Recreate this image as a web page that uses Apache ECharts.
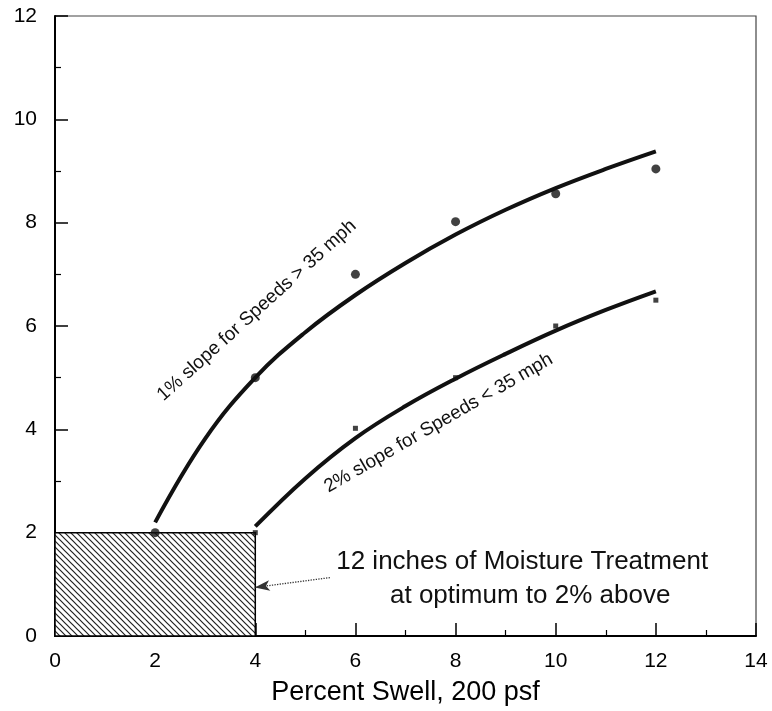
<!DOCTYPE html>
<html><head><meta charset="utf-8">
<script src="https://cdn.jsdelivr.net/npm/echarts@6/dist/echarts.min.js"></script>
<style>html,body{margin:0;padding:0;background:#fff}#c{width:772px;height:711px}</style>
</head><body><div id="c"></div>
<script>
// ---- data ----
const upperPtsX = [2, 4, 6, 8, 10, 12];
const upperPtsY = [2, 5, 7, 8.02, 8.56, 9.04];
const lowerPtsX = [4, 6, 8, 10, 12];
const lowerPtsY = [2, 4.02, 5, 6, 6.5];
const upperCurveX = [2, 3, 4, 5, 6, 7, 8, 9, 10, 11, 12];
const upperCurveY = [2.2, 3.82, 5.0, 5.88, 6.6, 7.22, 7.77, 8.25, 8.67, 9.04, 9.38];
const lowerCurveX = [4, 5, 6, 7, 8, 9, 10, 11, 12];
const lowerCurveY = [2.12, 3.05, 3.83, 4.45, 4.98, 5.46, 5.91, 6.31, 6.67];
const treatX = [0, 4];
const treatY = [0, 2];
const arrowFrom = [5.49, 1.13];
const arrowTo = [3.99, 0.94];
const upperLabel = '1% slope for Speeds > 35 mph';
const lowerLabel = '2% slope for Speeds < 35 mph';
const noteLines = ['12 inches of Moisture Treatment', 'at optimum to 2% above'];
const xAxisName = 'Percent Swell, 200 psf';
// annotation anchors (data coords)
const upperLabelAt = [4.03, 6.3];
const lowerLabelAt = [7.66, 4.12];
const noteAt = [[9.33, 1.43], [9.49, 0.78]];

const FONT = '"Liberation Sans", Arial, Helvetica, sans-serif';

function zip(xs, ys) { return xs.map((x, i) => [x, ys[i]]); }

// hatch pattern
const hatch = document.createElement('canvas');
hatch.width = 6; hatch.height = 6;
(function () {
  const c = hatch.getContext('2d');
  c.fillStyle = '#fff'; c.fillRect(0, 0, 6, 6);
  c.strokeStyle = '#222'; c.lineWidth = 1.2;
  c.beginPath();
  c.moveTo(-1, -1); c.lineTo(7, 7);
  c.moveTo(-1, 5); c.lineTo(1, 7);
  c.moveTo(5, -1); c.lineTo(7, 1);
  c.stroke();
})();

const chart = echarts.init(document.getElementById('c'), null, { renderer: 'canvas' });

const axisCommon = {
  axisLine: { show: true, onZero: false, lineStyle: { color: '#000', width: 2 } },
  axisTick: { show: true, inside: true, length: 13, lineStyle: { color: '#000', width: 1.5 } },
  minorTick: { show: true, splitNumber: 2, length: 6, lineStyle: { color: '#000', width: 1.2 } },
  splitLine: { show: false },
  minorSplitLine: { show: false },
  axisLabel: { color: '#000', fontSize: 21, fontFamily: FONT }
};

chart.setOption({
  animation: false,
  backgroundColor: '#fff',
  grid: { left: 55, right: 16, top: 16, bottom: 74, show: true, borderColor: '#444', borderWidth: 1.2 },
  xAxis: Object.assign({}, axisCommon, {
    type: 'value', min: 0, max: 14, interval: 2,
    axisLabel: Object.assign({}, axisCommon.axisLabel, { margin: 15 }),
    name: xAxisName, nameLocation: 'middle', nameGap: 43,
    nameTextStyle: { color: '#000', fontSize: 27, fontFamily: FONT }
  }),
  yAxis: Object.assign({}, axisCommon, {
    type: 'value', min: 0, max: 12, interval: 2,
    axisLabel: Object.assign({}, axisCommon.axisLabel, { margin: 18 })
  }),
  series: [
    {
      type: 'custom', z: 1,
      renderItem: function (params, api) {
        const p0 = api.coord([api.value(0), api.value(1)]);
        const p1 = api.coord([api.value(2), api.value(3)]);
        return {
          type: 'rect',
          shape: { x: p0[0], y: p1[1], width: p1[0] - p0[0], height: p0[1] - p1[1] },
          style: { fill: { image: hatch, repeat: 'repeat' }, stroke: '#000', lineWidth: 1.5 }
        };
      },
      encode: { x: [0, 2], y: [1, 3] },
      data: [[treatX[0], treatY[0], treatX[1], treatY[1]]]
    },
    {
      type: 'line', z: 3, smooth: 0.4, showSymbol: false,
      lineStyle: { color: '#111', width: 4 },
      data: zip(upperCurveX, upperCurveY)
    },
    {
      type: 'line', z: 3, smooth: 0.4, showSymbol: false,
      lineStyle: { color: '#111', width: 4 },
      data: zip(lowerCurveX, lowerCurveY),
      markLine: {
        silent: true, symbol: ['none', 'arrow'], symbolSize: [8, 15],
        label: { show: false },
        itemStyle: { color: '#111' },
        lineStyle: { color: '#333', width: 1.3, type: 'dotted' },
        data: [[{ coord: arrowFrom }, { coord: arrowTo }]]
      }
    },
    {
      type: 'scatter', z: 4, symbol: 'circle', symbolSize: 9,
      itemStyle: { color: '#111' },
      data: zip(upperPtsX, upperPtsY)
    },
    {
      type: 'scatter', z: 4, symbol: 'rect', symbolSize: 5,
      itemStyle: { color: '#111' },
      data: zip(lowerPtsX, lowerPtsY)
    }
  ]
});

function px(p) { return chart.convertToPixel({ gridIndex: 0 }, p); }
const u = px(upperLabelAt), l = px(lowerLabelAt), n0 = px(noteAt[0]), n1 = px(noteAt[1]);
const txt = (p, s, size, rot) => ({
  type: 'text', x: p[0], y: p[1], rotation: rot * Math.PI / 180, z: 10,
  style: { text: s, fill: '#111', font: size + 'px ' + FONT, align: 'center', verticalAlign: 'middle' }
});
chart.setOption({
  graphic: [
    txt(u, upperLabel, 19, 42),
    txt(l, lowerLabel, 19, 30),
    txt(n0, noteLines[0], 26, 0),
    txt(n1, noteLines[1], 26, 0)
  ]
});
</script></body></html>
